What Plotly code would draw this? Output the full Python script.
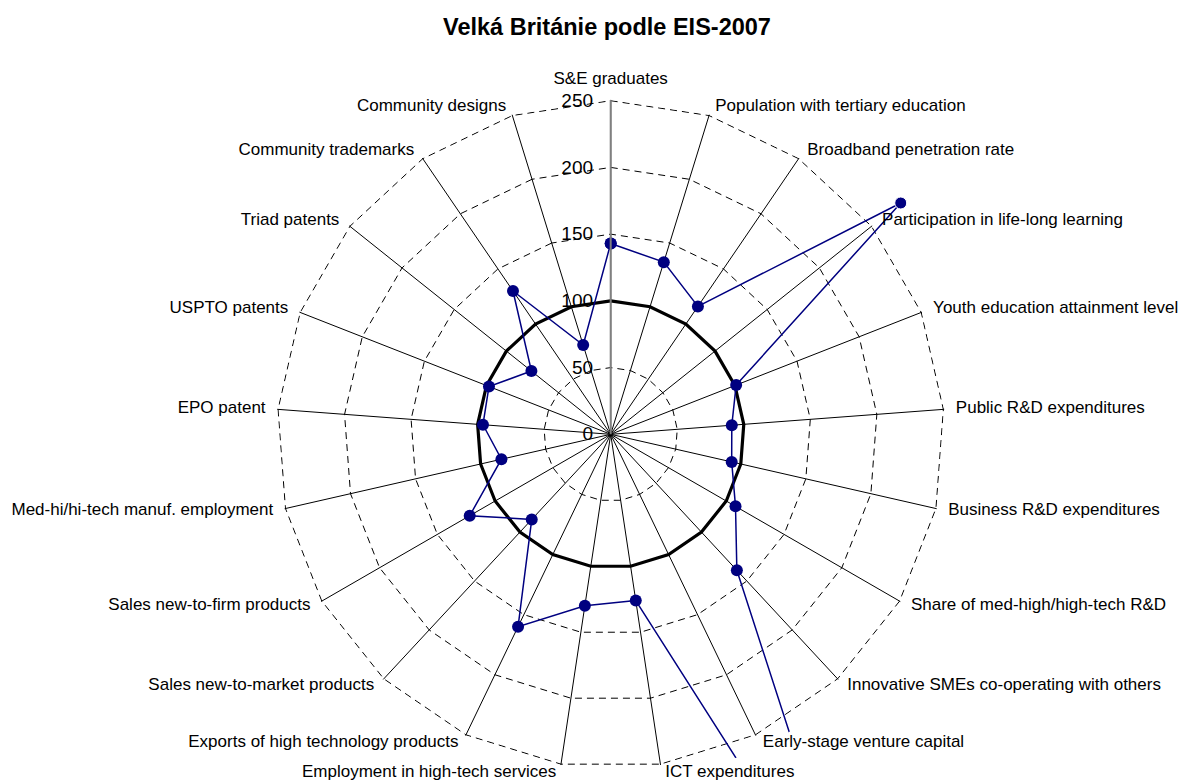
import math
import plotly.graph_objects as go

# Indicator names, clockwise from the top of the radar
categories = [
    "S&E graduates",
    "Population with tertiary education",
    "Broadband penetration rate",
    "Participation in life-long learning",
    "Youth education attainment level",
    "Public R&D expenditures",
    "Business R&D expenditures",
    "Share of med-high/high-tech R&D",
    "Innovative SMEs co-operating with others",
    "Early-stage venture capital",
    "ICT expenditures",
    "Employment in high-tech services",
    "Exports of high technology products",
    "Sales new-to-market products",
    "Sales new-to-firm products",
    "Med-hi/hi-tech manuf. employment",
    "EPO patent",
    "USPTO patents",
    "Triad patents",
    "Community trademarks",
    "Community designs",
]

# United Kingdom, EU-25 = 100
uk_values = [143, 135, 116, 278, 101, 91, 93, 108, 139, 433, 126,
             130, 160, 87, 122, 84, 96, 98, 76, 130, 70]
eu_values = [100] * len(categories)

radial_ticks = [0, 50, 100, 150, 200, 250]

# ---- geometry of the page (px) ----
W, H = 1187, 780
CX, CY = 610.7, 434.3          # radar centre
R_OUTER = 333.6                # radius of the outermost ring
AXIS_MAX = radial_ticks[-1]
K = R_OUTER / AXIS_MAX         # px per unit
N = len(categories)
STEP = 360.0 / N

NAVY = "#000080"
FONT = "Liberation Sans, Arial, sans-serif"
RING_DASH = "7px,5px"
MARKER = 12


def sector_bbox(s0, s1):
    """Bounding box of a sector (unit radius, origin included)."""
    pts = [(0.0, 0.0)]
    for a in (s0, s1):
        pts.append((math.cos(math.radians(a)), math.sin(math.radians(a))))
    for c in range(-360, 721, 90):
        if s0 <= c <= s1:
            pts.append((math.cos(math.radians(c)), math.sin(math.radians(c))))
    xs = [p[0] for p in pts]
    ys = [p[1] for p in pts]
    return min(xs), min(ys), max(xs), max(ys)


def domain_for(sector, rmax):
    """Subplot domain that puts the centre at (CX, CY) with K px per unit."""
    x0, y0, x1, y1 = sector_bbox(*sector)
    R = rmax * K
    left, right = CX + x0 * R, CX + x1 * R
    top, bottom = CY - y1 * R, CY - y0 * R
    return dict(x=[left / W, right / W], y=[1 - bottom / H, 1 - top / H])


def largest_range(sector):
    x0, y0, x1, y1 = sector_bbox(*sector)
    lim = []
    if x0 < 0:
        lim.append(CX / -x0)
    if x1 > 0:
        lim.append((W - CX) / x1)
    if y1 > 0:
        lim.append(CY / y1)
    if y0 < 0:
        lim.append((H - CY) / -y0)
    return math.floor(min(lim) / K * 0.995)


def angular(**extra):
    base = dict(type="category", categoryorder="array", categoryarray=categories,
                period=N, direction="clockwise", rotation=90)
    base.update(extra)
    return base


def hidden_polar(domain, sector, rmax):
    return dict(
        domain=domain, sector=sector, bgcolor="rgba(0,0,0,0)",
        radialaxis=dict(range=[0, rmax], visible=False),
        angularaxis=angular(visible=False),
    )


def closed(seq):
    return list(seq) + [seq[0]]


fig = go.Figure()

# ---- main radar: grid, EU reference and in-range UK values ----
main_max = AXIS_MAX + 0.6
main_r = [v if v <= AXIS_MAX else None for v in uk_values]

# outermost dashed ring
fig.add_trace(go.Scatterpolar(
    r=closed([AXIS_MAX] * N), theta=closed(categories),
    mode="lines", line=dict(color="black", width=1, dash=RING_DASH),
    hoverinfo="skip", subplot="polar",
))
# EU = 100
fig.add_trace(go.Scatterpolar(
    r=closed(eu_values), theta=closed(categories),
    mode="lines", line=dict(color="black", width=3.2),
    hoverinfo="skip", subplot="polar",
))
# United Kingdom
fig.add_trace(go.Scatterpolar(
    r=closed(main_r), theta=closed(categories),
    mode="lines+markers",
    line=dict(color=NAVY, width=1.5),
    marker=dict(color=NAVY, size=MARKER, opacity=1),
    subplot="polar",
))

layout_polars = {
    "polar": dict(
        domain=domain_for((0, 360), main_max),
        bgcolor="white",
        gridshape="linear",
        radialaxis=dict(
            range=[0, main_max], tickvals=radial_ticks, angle=90, tickangle=90,
            side="counterclockwise",
            showline=True, linecolor="#808080", linewidth=2,
            showgrid=True, gridcolor="black", gridwidth=1, griddash=RING_DASH,
            ticks="outside", ticklen=10, tickcolor="rgba(0,0,0,0)",
            tickfont=dict(size=19, color="black", family=FONT),
        ),
        angularaxis=angular(
            showline=False, showgrid=True, gridcolor="black", gridwidth=1,
            ticks="", showticklabels=False,
        ),
    )
}

# ---- values above the outer ring, drawn in wider transparent sectors ----
sub = 2
for i, v in enumerate(uk_values):
    if v <= AXIS_MAX:
        continue
    idx = [(i - 1) % N, i, (i + 1) % N]
    sector = (90 - (i + 1) * STEP, 90 - (i - 1) * STEP)
    rmax = largest_range(sector)
    name = f"polar{sub}"
    layout_polars[name] = hidden_polar(domain_for(sector, rmax), sector, rmax)
    fig.add_trace(go.Scatterpolar(
        r=[uk_values[j] for j in idx], theta=[categories[j] for j in idx],
        mode="lines+markers",
        line=dict(color=NAVY, width=1.5),
        marker=dict(color=NAVY, size=[0, MARKER, 0], opacity=1),
        hoverinfo="skip", subplot=name,
    ))
    sub += 1

# ---- category labels around the outer ring ----
label_gap = 9                                  # px beyond the outer ring
label_max = AXIS_MAX + 1
label_name = f"polar{sub}"
layout_polars[label_name] = hidden_polar(
    domain_for((0, 360), label_max * (R_OUTER + label_gap) / R_OUTER), (0, 360),
    label_max,
)
positions = ["top center"] + ["middle right"] * 10 + ["middle left"] * 10
fig.add_trace(go.Scatterpolar(
    r=[AXIS_MAX] * N, theta=categories, text=categories,
    mode="markers+text", textposition=positions,
    marker=dict(size=4, opacity=0),
    textfont=dict(size=17, color="black", family=FONT),
    cliponaxis=False, hoverinfo="skip", subplot=label_name,
))

fig.update_layout(
    width=W, height=H,
    margin=dict(l=0, r=0, t=0, b=0),
    paper_bgcolor="white",
    showlegend=False,
    font=dict(family=FONT, color="black"),
    title=dict(
        text="<b>Velká Británie podle EIS-2007</b>",
        x=607 / W, xanchor="center", y=1 - 27 / H, yanchor="middle",
        font=dict(size=23.5, color="black", family=FONT),
    ),
    **layout_polars,
)

fig.write_html("out.html", config={"responsive": False})
